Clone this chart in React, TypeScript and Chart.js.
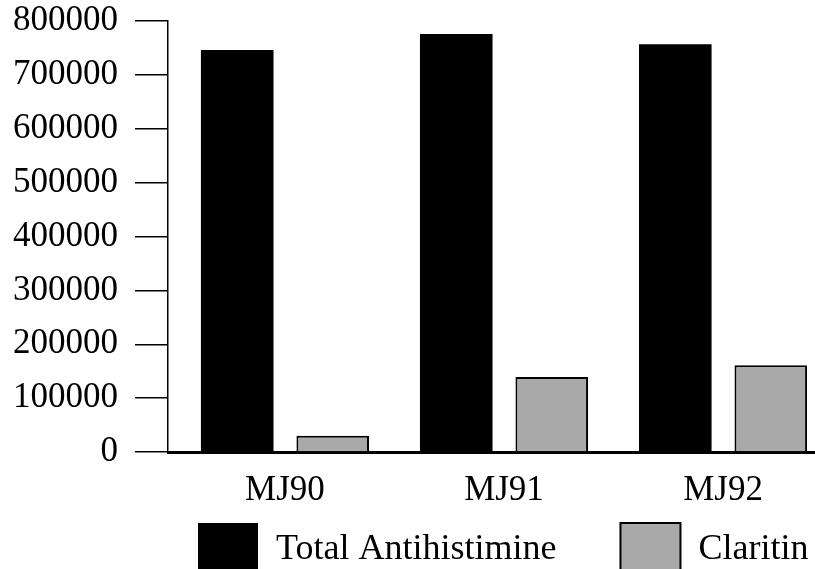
import React, { useEffect, useRef } from "react";
import { Chart, registerables } from "chart.js";

Chart.register(...registerables);

const categories = ["MJ90", "MJ91", "MJ92"];
const totalAntihistimine = [746000, 776000, 757000];
const claritin = [30000, 139000, 161000];
const seriesNames = ["Total Antihistimine", "Claritin"];
const yMin = 0;
const yMax = 800000;
const yStep = 100000;

const FONT = "'Liberation Serif', 'Times New Roman', serif";
const LEGEND_START_X = 198;

export default function App() {
  const ref = useRef<HTMLCanvasElement | null>(null);

  useEffect(() => {
    if (!ref.current) return;
    const toPoints = (vals: number[]) => vals.map((v, i) => ({ x: i, y: v }));
    const chart = new Chart(ref.current, {
      type: "bar",
      data: {
        datasets: [
          {
            label: seriesNames[0],
            data: toPoints(totalAntihistimine) as any,
            backgroundColor: "#000000",
            borderColor: "#000000",
            borderWidth: 0,
          },
          {
            label: seriesNames[1],
            data: toPoints(claritin) as any,
            backgroundColor: "#a9a9a9",
            borderColor: "#000000",
            borderWidth: 2,
          },
        ],
      },
      options: {
        responsive: false,
        animation: false,
        devicePixelRatio: 1,
        font: { family: FONT, size: 35 },
        color: "#000",
        layout: { padding: { top: 21, left: 0, right: 0, bottom: 0 } },
        datasets: {
          bar: { categoryPercentage: 0.872, barPercentage: 0.76 },
        },
        plugins: {
          tooltip: { enabled: false },
          legend: {
            position: "bottom",
            align: "start",
            fullSize: false,
            labels: {
              boxWidth: 60,
              boxHeight: 54,
              padding: 64,
              color: "#000",
              font: { family: FONT, size: 36 },
            },
          },
        },
        scales: {
          x: {
            type: "linear",
            min: -0.534,
            max: 2.534,
            offset: false,
            grid: {
              display: true,
              offset: false,
              drawOnChartArea: false,
              drawTicks: false,
              color: "rgba(0,0,0,0)",
            },
            border: { display: true, color: "#000", width: 3 },
            afterBuildTicks: (scale: any) => {
              scale.ticks = categories.map((_, i) => ({ value: i }));
            },
            afterFit: (scale: any) => {
              scale.height = 7;
              scale.paddingLeft = 0;
              scale.paddingRight = 0;
            },
            ticks: {
              mirror: true,
              padding: -60,
              color: "#000",
              font: { family: FONT, size: 35 },
              autoSkip: false,
              maxRotation: 0,
              callback: (v: any) => categories[v as number] ?? "",
            },
          },
          y: {
            min: yMin,
            max: yMax,
            grid: {
              display: true,
              drawOnChartArea: false,
              drawTicks: true,
              tickLength: 33,
              color: "#000",
              lineWidth: 1.5,
            },
            border: { display: true, color: "#000", width: 1.5 },
            afterFit: (scale: any) => {
              scale.width = 168;
              scale.paddingTop = 0;
              scale.paddingBottom = 0;
            },
            ticks: {
              stepSize: yStep,
              padding: 17,
              color: "#000",
              font: { family: FONT, size: 35 },
              callback: (v: any) => String(v),
            },
          },
        },
      },
    } as any);

    // keep the legend on a single row, items spaced wide apart as in the original
    const legend: any = (chart as any).legend;
    if (legend && legend._fitRows) {
      const origFit = legend._fitRows;
      legend._fitRows = function (...args: any[]) {
        const saved = this.maxWidth;
        this.maxWidth = 5000;
        const r = origFit.apply(this, args);
        this.maxWidth = saved;
        return r;
      };
      const origDraw = legend.draw;
      legend.draw = function (...args: any[]) {
        const l = this.left;
        const r = this.right;
        const pad = this.options.labels.padding;
        this.left = LEGEND_START_X - pad;
        this.right = 5000;
        const res = origDraw.apply(this, args);
        this.left = l;
        this.right = r;
        return res;
      };
      chart.update();
    }
    return () => chart.destroy();
  }, []);

  return (
    <div
      style={{
        position: "fixed",
        left: 0,
        top: 0,
        width: 815,
        height: 569,
        overflow: "hidden",
        background: "#fff",
      }}
    >
      <canvas ref={ref} width={840} height={587} style={{ display: "block" }} />
    </div>
  );
}
